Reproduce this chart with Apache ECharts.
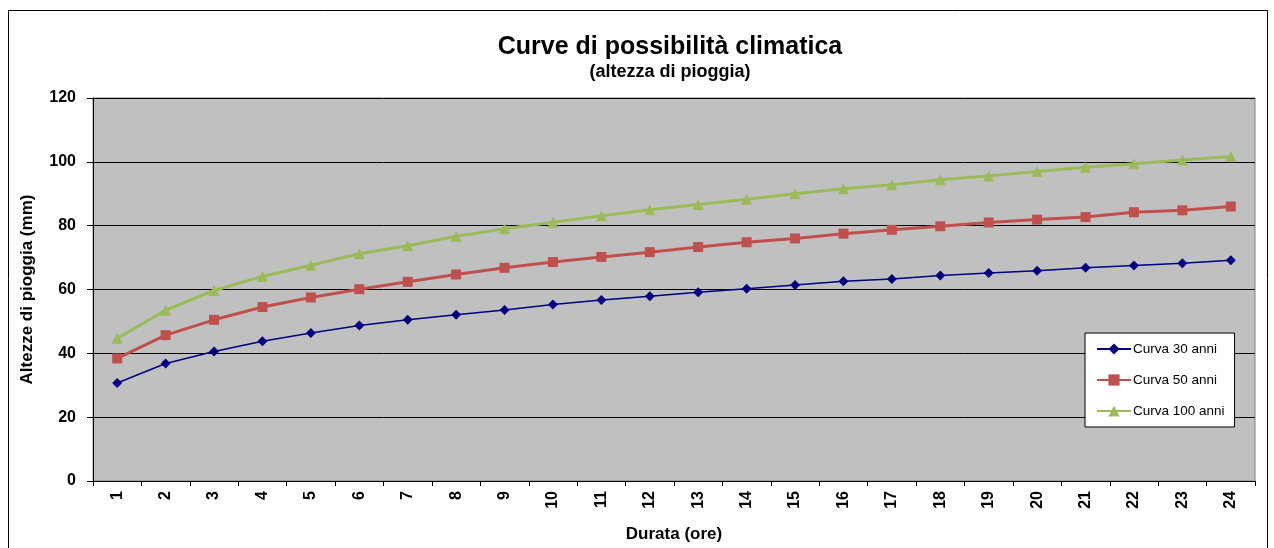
<!DOCTYPE html>
<html>
<head>
<meta charset="utf-8">
<script src="https://cdn.jsdelivr.net/npm/echarts@6/dist/echarts.min.js"></script>
<style>
html,body{margin:0;padding:0;background:#fff;}
#chart{width:1274px;height:548px;}
</style>
</head>
<body>
<div id="chart"></div>
<script>
const durations = ['1','2','3','4','5','6','7','8','9','10','11','12','13','14','15','16','17','18','19','20','21','22','23','24'];
const curva30 = [30.7,36.8,40.6,43.8,46.4,48.7,50.5,52.1,53.6,55.3,56.7,57.9,59.1,60.2,61.4,62.6,63.3,64.4,65.2,65.9,66.8,67.5,68.2,69.2];
const curva50 = [38.4,45.7,50.5,54.5,57.5,60.1,62.4,64.7,66.8,68.6,70.2,71.7,73.3,74.8,76.0,77.5,78.7,79.8,81.0,81.9,82.7,84.2,84.8,86.0];
const curva100 = [44.7,53.5,59.7,64.1,67.6,71.2,73.7,76.7,79.0,81.1,83.1,85.0,86.6,88.3,90.0,91.6,92.8,94.4,95.6,97.0,98.3,99.4,100.6,101.7];
const seriesNames = ['Curva 30 anni','Curva 50 anni','Curva 100 anni'];
const yTicks = [0,20,40,60,80,100,120];

const FONT = '"Liberation Sans", Arial, sans-serif';
const chart = echarts.init(document.getElementById('chart'), null, {renderer:'canvas'});
chart.setOption({
  animation:false,
  backgroundColor:'#ffffff',
  graphic:[{
    type:'rect', shape:{x:8.5,y:10.5,width:1259,height:600},
    style:{fill:'none',stroke:'#000',lineWidth:1}, z:-1
  }],
  title:[
    {text:'Curve di possibilità climatica', left:665, top:30, textAlign:'center',
     textStyle:{fontFamily:FONT,fontWeight:'bold',fontSize:25,color:'#000'}},
    {text:'(altezza di pioggia)', left:665, top:58, textAlign:'center',
     textStyle:{fontFamily:FONT,fontWeight:'bold',fontSize:18,color:'#000'}}
  ],
  legend:{
    orient:'vertical', left:1085, top:333, padding:[9,10,9,11],
    itemWidth:34, itemHeight:14, itemGap:17,
    backgroundColor:'#fff', borderColor:'#000', borderWidth:1, borderRadius:0,
    textStyle:{fontFamily:FONT,fontSize:13.5,color:'#000',padding:[0,0,0,-3]},
    data:seriesNames
  },
  grid:{left:93,right:19,top:98,bottom:66,show:true,backgroundColor:'#C0C0C0',borderColor:'#808080',borderWidth:1},
  xAxis:{
    type:'category', data:durations, boundaryGap:true,
    name:'Durata (ore)', nameLocation:'middle', nameGap:45,
    nameTextStyle:{fontFamily:FONT,fontWeight:'bold',fontSize:17,color:'#000'},
    axisLine:{lineStyle:{color:'#000',width:1}},
    axisTick:{show:true,alignWithLabel:false,length:5,lineStyle:{color:'#000'}},
    axisLabel:{rotate:90,fontFamily:FONT,fontWeight:'bold',fontSize:16,color:'#000',margin:10,interval:0},
    splitLine:{show:false}
  },
  yAxis:{
    type:'value', min:yTicks[0], max:yTicks[yTicks.length-1], interval:20,
    name:'Altezze di pioggia (mm)', nameLocation:'middle', nameGap:57,
    nameTextStyle:{fontFamily:FONT,fontWeight:'bold',fontSize:17,color:'#000'},
    axisLine:{show:true,lineStyle:{color:'#000',width:1}},
    axisTick:{show:true,length:6,lineStyle:{color:'#000'}},
    axisLabel:{fontFamily:FONT,fontWeight:'bold',fontSize:16,color:'#000',margin:17},
    splitLine:{show:true,lineStyle:{color:'#000',width:1}}
  },
  series:[
    {name:seriesNames[0], type:'line', data:curva30, symbol:'diamond', symbolSize:10,
     lineStyle:{color:'#000080',width:1.5}, itemStyle:{color:'#000080'}},
    {name:seriesNames[1], type:'line', data:curva50, symbol:'rect', symbolSize:10,
     lineStyle:{color:'#C0504D',width:3}, itemStyle:{color:'#C0504D'}},
    {name:seriesNames[2], type:'line', data:curva100, symbol:'triangle', symbolSize:11,
     lineStyle:{color:'#9BBB59',width:3}, itemStyle:{color:'#9BBB59'}}
  ]
});
</script>
</body>
</html>
